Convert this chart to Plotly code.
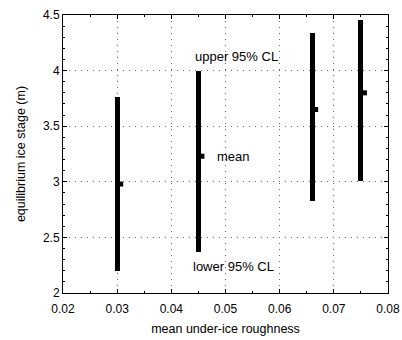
import plotly.graph_objects as go

roughness = [0.030, 0.045, 0.066, 0.075]
lower_cl = [2.20, 2.37, 2.83, 3.01]
upper_cl = [3.76, 4.00, 4.34, 4.455]
mean_stage = [2.98, 3.23, 3.65, 3.80]

x_ticks = [0.02, 0.03, 0.04, 0.05, 0.06, 0.07, 0.08]
x_tick_labels = ["0.02", "0.03", "0.04", "0.05", "0.06", "0.07", "0.08"]
y_ticks = [2, 2.5, 3, 3.5, 4, 4.5]
y_tick_labels = ["2", "2.5", "3", "3.5", "4", "4.5"]

FONT = "Liberation Sans, Arial, sans-serif"

fig = go.Figure()
fig.add_trace(go.Bar(
    x=roughness,
    y=[u - l for u, l in zip(upper_cl, lower_cl)],
    base=lower_cl,
    width=0.0009,
    marker=dict(color="black", line=dict(width=0)),
    showlegend=False,
))
mean_offset = 0.00065
fig.add_trace(go.Scatter(
    x=[r + mean_offset for r in roughness],
    y=mean_stage,
    mode="markers",
    marker=dict(symbol="square", size=5, color="black"),
    showlegend=False,
))

fig.add_annotation(x=0.0520, y=4.13, text="upper 95% CL", showarrow=False,
                   font=dict(family=FONT, size=13, color="black"))
fig.add_annotation(x=0.0514, y=3.23, text="mean", showarrow=False,
                   font=dict(family=FONT, size=13, color="black"))
fig.add_annotation(x=0.0514, y=2.235, text="lower 95% CL", showarrow=False,
                   font=dict(family=FONT, size=13, color="black"))

axis_common = dict(
    showline=True, linecolor="black", linewidth=1, mirror="ticks",
    ticks="inside", ticklen=4, tickcolor="black",
    showgrid=True, gridcolor="#666666", griddash="1px,5px", gridwidth=1,
    zeroline=False, automargin=False,
    tickfont=dict(family=FONT, size=12, color="black"),
)

fig.update_xaxes(
    range=[0.02, 0.08], tickvals=x_ticks, ticktext=x_tick_labels,
    ticklabelstandoff=5,
    title=dict(text="mean under-ice roughness", font=dict(family=FONT, size=12.5, color="black"), standoff=8),
    minor=dict(dtick=0.005, ticks="inside", ticklen=2, tickcolor="black", showgrid=False),
    **axis_common,
)
fig.update_yaxes(
    range=[2, 4.5], tickvals=y_ticks, ticktext=y_tick_labels,
    title=dict(text="equilibrium ice stage (m)", font=dict(family=FONT, size=12.5, color="black"), standoff=14),
    minor=dict(dtick=0.1, ticks="inside", ticklen=2, tickcolor="black", showgrid=False),
    **axis_common,
)

fig.update_layout(
    width=402, height=340,
    margin=dict(l=63, r=14, t=15, b=47),
    plot_bgcolor="white", paper_bgcolor="white",
    bargap=0,
)

fig.write_html("out.html", config={"displayModeBar": False},
               post_script="document.body.style.margin='0';document.body.style.overflow='hidden';")
